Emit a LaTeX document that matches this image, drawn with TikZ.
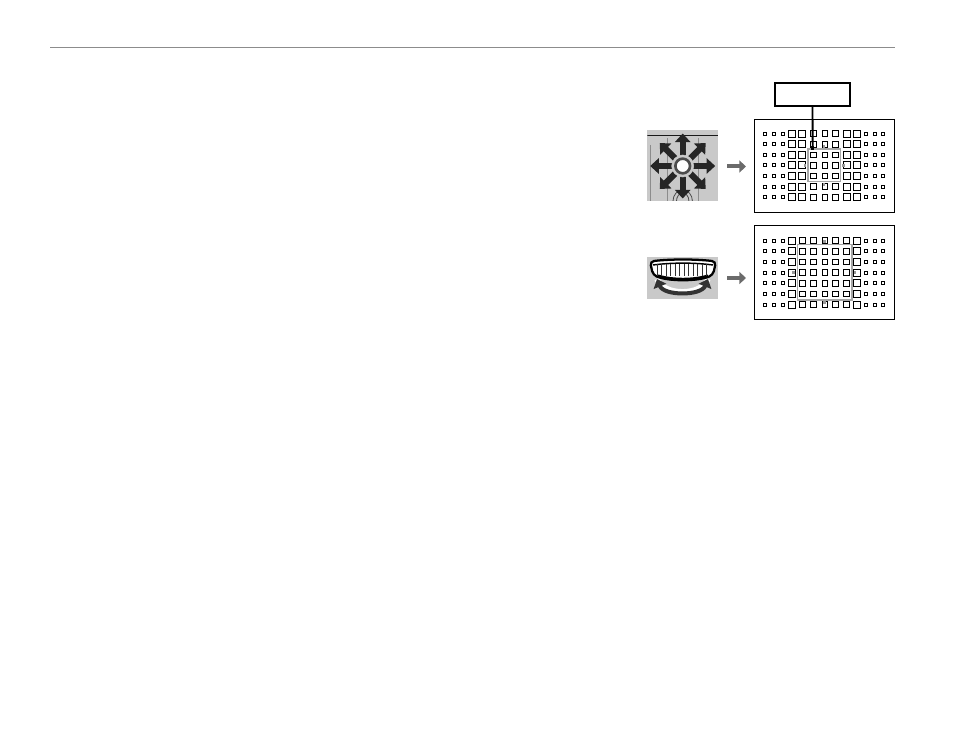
\documentclass[tikz,border=0pt]{standalone}
\usepackage{amsmath}
\usepackage{tikz}
\usetikzlibrary{arrows.meta,calc}
\tikzset{
    sq/.style={draw=black,line width=0.75pt,inner sep=0pt,outer sep=0pt,minimum size=#1,fill=white},
    tick/.style={fill=black!40,inner sep=0pt,outer sep=0pt,minimum size=2.2pt},
    zone/.style={draw=black!35,line width=0.9pt},
    goarrow/.style={draw=black!58,line width=3pt,-{Triangle[length=5pt,width=9pt]}},
    padarrow/.style={draw=black!85,line width=4.6pt,-{Triangle[length=6.5pt,width=11.5pt]}},
}
\newcommand{\afgrid}[4]{%
    \foreach \y [count=\r] in {#1} {
        \foreach \x [count=\c] in {765,774,782.7,866,875,883.3}
            \node [sq=2.2pt] (#4s\r\c) at (\x,\y) {};
        \foreach \x [count=\c] in {#2}
            \node [sq=5.2pt] (#4b\r\c) at (\x,\y) {};
        \foreach \x [count=\c] in {#3}
            \node [sq=4.3pt] (#4m\r\c) at (\x,\y) {};
    }
}
\begin{document}
\begin{tikzpicture}[x=0.75pt,y=-0.75pt]
    \useasboundingbox (0,0) rectangle (954,748);
    \draw [black!45,line width=0.75pt] (50,47.5) -- (895,47.5);

    \node [draw=black,line width=0.75pt,fill=white,inner sep=0pt,minimum width=105pt,minimum height=69.75pt] (paneltop) at (824.7,165.8) {};
    \node [draw=black,line width=0.75pt,fill=white,inner sep=0pt,minimum width=105pt,minimum height=70.5pt] (panelbot) at (824.7,272.3) {};

    \afgrid{133.7,144.3,155,165.3,176,186.7,197.3}{791.7,802.3,846.7,857.3}{813.3,825,835.7}{t}
    \afgrid{240.7,251.3,262,272.7,283.3,294,304.7}{791.7,857.3}{802.3,813.3,825,835.7,846.7}{b}

    \draw [zone] (808,149) rectangle (840.3,181.3);
    \draw [zone] (797.7,244.7) rectangle (852,300);
    \node [tick] (ta) at (824,146.5) {};
    \node [tick] (tb) at (805,165.3) {};
    \node [tick] (tc) at (843.7,165.3) {};
    \node [tick] (td) at (824,184.7) {};
    \node [tick] (ba) at (824.7,241.7) {};
    \node [tick] (bb) at (793.7,272.3) {};
    \node [tick] (bc) at (855,272.3) {};
    \node [tick] (bd) at (824.7,302.7) {};

    \node [draw=black,line width=1.3pt,fill=white,inner sep=0pt,minimum width=56pt,minimum height=17pt] (labelbox) at (812.5,94.5) {};
    \node [fill=black,inner sep=0pt,minimum size=2.6pt] (dot) at (812.7,148) {};
    \draw [line width=1.4pt] (labelbox.south) -- (dot);

    \node [fill=black!21,inner sep=0pt,minimum width=53pt,minimum height=53.25pt] (padbg) at (682.7,165.5) {};
    \begin{scope}
    \clip (647.3,130) rectangle (718,201);
    \draw [black!90,line width=0.75pt] (647.3,136) -- (718,136);
    \draw [black!45,line width=0.5pt] (650.5,145) -- (650.5,201);
    \draw [black!45,line width=0.5pt] (667,138) -- (667,201);
    \draw [black!45,line width=0.5pt] (698,138) -- (698,201);
    \draw [black!70,line width=0.6pt] (673,201) arc (180:360:9.7 and 11);
    \draw [black!70,line width=0.6pt] (676.5,201) arc (180:360:6.2 and 8);
    \end{scope}
    \coordinate (padc) at (682.7,166);
    \foreach \a in {0,45,...,315}
        \draw [padarrow] ($(padc)+(\a:8)$) -- ($(padc)+(\a:32.5)$);
    \node [circle,draw=black!21,fill=black!21,minimum size=16.5pt,inner sep=0pt] (padgap) at (padc) {};
    \node [circle,draw=black!70,fill=white,line width=2pt,minimum size=11pt,inner sep=0pt] (padring) at (padc) {};

    \node [fill=black!21,inner sep=0pt,minimum width=53pt,minimum height=31.5pt] (dialbg) at (682.7,278) {};
    \draw [white,line width=4pt] (657,279) .. controls (664,296) and (701,296) .. (708,279);
    \draw [black!80,line width=3pt,{Triangle[length=6pt,width=10pt]}-{Triangle[length=6pt,width=10pt]}]
        (657,279) .. controls (664,296) and (701,296) .. (708,279);
    \draw [black,fill=white,line width=1.7pt,rounded corners=3pt]
        (650,261.5) .. controls (670,259) and (696,259) .. (716,261.5)
        -- (713,275) .. controls (697,281.5) and (669,281.5) .. (653,275) -- cycle;
    \draw [black,line width=2.4pt] (658,276) .. controls (672,280.5) and (694,280.5) .. (708,276);
    \draw [black,line width=1.1pt] (653,265) .. controls (672,262.5) and (694,262.5) .. (713,265);
    \foreach \x in {657,661.5,...,710}
        \draw [black!80,line width=0.5pt] (\x,264) -- (\x,276);

    \draw [goarrow] (727,166.5) -- (746,166.5);
    \draw [goarrow] (727,278) -- (746,278);
\end{tikzpicture}
\end{document}
